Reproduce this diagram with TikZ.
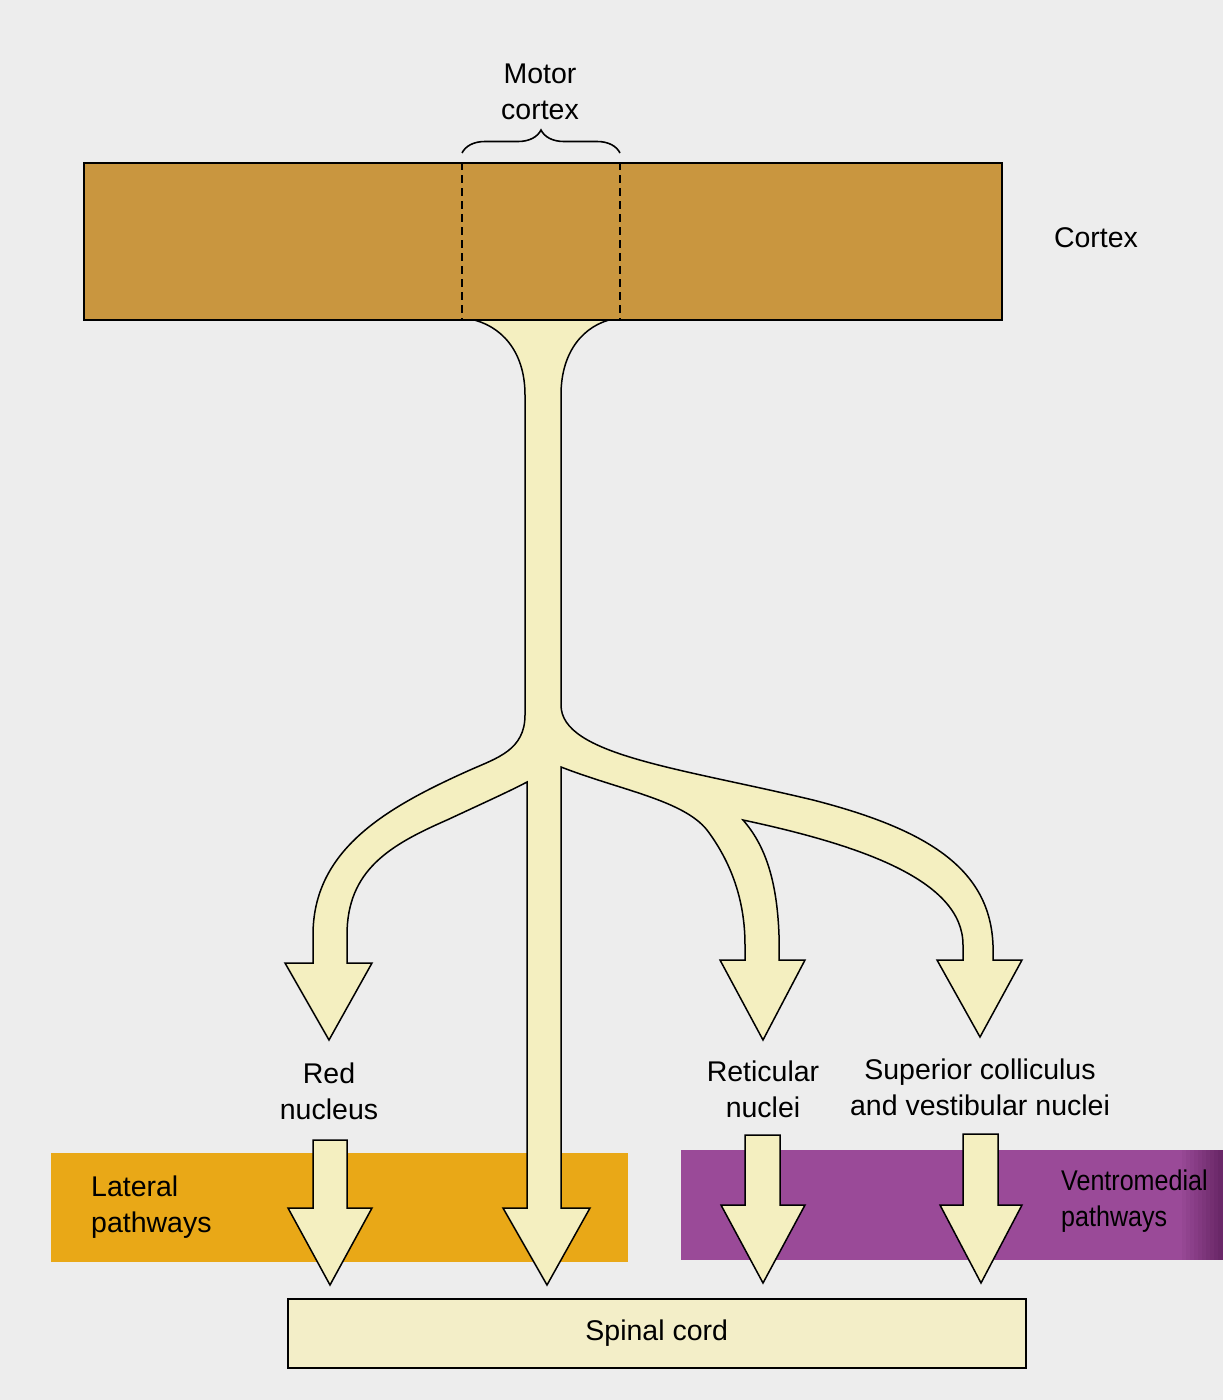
\documentclass[tikz,border=0pt]{standalone}
\usepackage{graphicx}
\usepackage{fontspec}
\setmainfont{Liberation Sans}
\usetikzlibrary{decorations.pathreplacing}
\definecolor{bgc}{HTML}{EDEDED}
\definecolor{cortexc}{HTML}{C9963F}
\definecolor{latc}{HTML}{E9A817}
\definecolor{ventc}{HTML}{9A4A98}
\definecolor{ventd}{HTML}{6A2868}
\definecolor{arrowc}{HTML}{F4EFC0}
\definecolor{cordc}{HTML}{F3EEC8}
\begin{document}
\begin{tikzpicture}[x=1pt,y=-1pt,
  outl/.style={draw=black,line width=1.5pt,line join=miter},
  lbl/.style={font=\fontsize{28.5}{36}\selectfont,align=center,inner sep=0pt,text=black},
  blockarrow/.style={outl,fill=arrowc}]
\useasboundingbox (0,0) rectangle (1223,1400);
\fill[bgc] (0,0) rectangle (1223,1400);
% pathway bands
\fill[latc] (51,1153) rectangle (628,1262);
\fill[ventc] (681,1150) rectangle (1223,1260);
\foreach \i in {1,...,10}{
  \pgfmathsetmacro{\pc}{10*\i}
  \fill[ventd!\pc!ventc] ({1178+4*\i},1150) rectangle (1223,1260);
}
% spinal cord
\node[outl,fill=cordc,minimum width=738pt,minimum height=69pt,inner sep=0pt,anchor=north west] (cord) at (287,1298) {};
\node[lbl] (cordlbl) at (cord.center) {Spinal cord};
% branching tree
\draw[blockarrow]
  (470,312) -- (470,319) .. controls (500,325) and (525,350) .. (525,395)
  -- (525,715) .. controls (525,750) and (497,758) .. (470,770)
  .. controls (385,808) and (313,850) .. (313,935) -- (313,963)
  -- (285,963) -- (329,1040) -- (372,963) -- (347,963) -- (347,935)
  .. controls (347,870) and (390,845) .. (447,820)
  .. controls (490,800) and (512,790) .. (527,782)
  -- (527,1208) -- (503,1208) -- (547,1285) -- (590,1208) -- (561,1208)
  -- (561,767)
  .. controls (620,790) and (683,800) .. (707,830)
  .. controls (731,862) and (745,900) .. (745,945) -- (745,960)
  -- (720,960) -- (763,1040) -- (805,960) -- (779,960) -- (779,935)
  .. controls (777,880) and (765,845) .. (743,820)
  .. controls (860,845) and (963,880) .. (963,945) -- (963,960)
  -- (937,960) -- (980,1037) -- (1022,960) -- (993,960) -- (993,945)
  .. controls (990,870) and (930,830) .. (813,800)
  .. controls (680,768) and (561,755) .. (561,705)
  -- (561,395) .. controls (561,350) and (585,325) .. (613,319) -- (613,312) -- cycle;
% cortex
\node[outl,fill=cortexc,minimum width=918pt,minimum height=157pt,inner sep=0pt,anchor=north west] (cortex) at (83,162) {};
\coordinate (dl1) at (462,162);
\coordinate (dl2) at (462,319);
\coordinate (dr1) at (620,162);
\coordinate (dr2) at (620,319);
\draw[black,line width=1.8pt,dash pattern=on 8pt off 5pt] (dl1) -- (dl2);
\draw[black,line width=1.8pt,dash pattern=on 8pt off 5pt] (dr1) -- (dr2);
\coordinate (br1) at (462,153);
\coordinate (br2) at (620,153);
\draw[black,line width=1.6pt,decorate,decoration={brace,amplitude=23pt}] (br1) -- (br2);
% lower arrows
\draw[blockarrow] (313,1140) -- (347,1140) -- (347,1208) -- (372,1208) -- (330,1285) -- (288,1208) -- (313,1208) -- cycle;
\draw[blockarrow] (745,1135) -- (780,1135) -- (780,1205) -- (805,1205) -- (763,1283) -- (721,1205) -- (745,1205) -- cycle;
\draw[blockarrow] (963,1134) -- (998,1134) -- (998,1205) -- (1022,1205) -- (981,1283) -- (940,1205) -- (963,1205) -- cycle;
% labels
\node[lbl] (motor) at (540,92) {Motor\\cortex};
\node[lbl] (cortexlbl) at (1096,238) {Cortex};
\node[lbl] (red) at (329,1091) {Red\\nucleus};
\node[lbl] (ret) at (763,1089) {Reticular\\nuclei};
\node[lbl] (sup) at (980,1087) {Superior colliculus\\and vestibular nuclei};
\node[lbl,align=left,anchor=west] (lat) at (91,1207) {Lateral\\pathways};
\node[lbl,align=left,anchor=west] (vent) at (1061,1201) {\scalebox{0.88}[1]{Ventromedial}\\\scalebox{0.88}[1]{pathways}};
\end{tikzpicture}
\end{document}
